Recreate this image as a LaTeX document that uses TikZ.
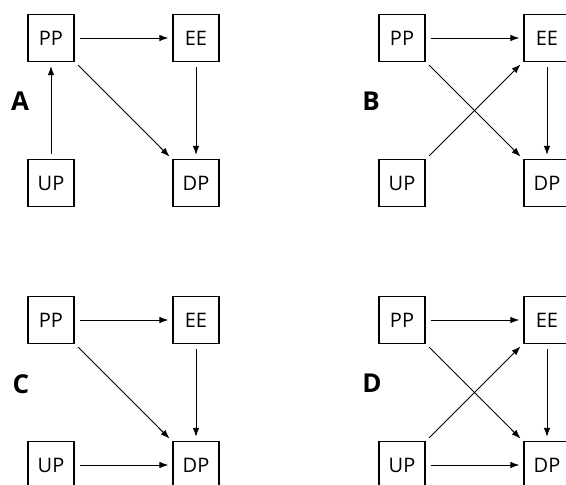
\documentclass[tikz,border=0pt]{standalone}
\usepackage{fontspec}
\setmainfont{Open Sans}
\usetikzlibrary{arrows.meta}
\tikzstyle{var} = [rectangle, minimum width=46pt, minimum height=47pt, inner sep=2pt, text centered, draw=black, line width=1.2pt, font=\fontsize{20}{24}\selectfont]
\tikzstyle{panel} = [font=\fontsize{26}{30}\selectfont\bfseries]
\tikzstyle{arrow} = [line width=1pt,->,>={Latex[length=9pt,width=6.5pt]}, shorten >=4pt, shorten <=5pt]

\begin{document}
\begin{tikzpicture}[x=1pt, y=-1pt, node distance=145pt]
    \useasboundingbox (0,0) rectangle (566,485);

    %nodes A
    \node (ppA) [var] at (51,38) {PP};
    \node (eeA) [var, right of=ppA] {EE};
    \node (upA) [var, below of=ppA] {UP};
    \node (dpA) [var, below of=eeA] {DP};
    \node (labA) [panel] at (20,101) {A};

    %nodes B
    \node (ppB) [var] at (402,38) {PP};
    \node (eeB) [var, right of=ppB] {EE};
    \node (upB) [var, below of=ppB] {UP};
    \node (dpB) [var, below of=eeB] {DP};
    \node (labB) [panel] at (371,101) {B};

    %nodes C
    \node (ppC) [var] at (51,320) {PP};
    \node (eeC) [var, right of=ppC] {EE};
    \node (upC) [var, below of=ppC] {UP};
    \node (dpC) [var, below of=eeC] {DP};
    \node (labC) [panel] at (21,384) {C};

    %nodes D
    \node (ppD) [var] at (402,320) {PP};
    \node (eeD) [var, right of=ppD] {EE};
    \node (upD) [var, below of=ppD] {UP};
    \node (dpD) [var, below of=eeD] {DP};
    \node (labD) [panel] at (372,383) {D};

    %arrows A
    \draw [arrow] (ppA) -- (eeA);
    \draw [arrow] (upA) -- (ppA);
    \draw [arrow] (eeA) -- (dpA);
    \draw [arrow] (ppA) -- (dpA);

    %arrows B
    \draw [arrow] (ppB) -- (eeB);
    \draw [arrow] (upB) -- (eeB);
    \draw [arrow] (eeB) -- (dpB);
    \draw [arrow] (ppB) -- (dpB);

    %arrows C
    \draw [arrow] (ppC) -- (eeC);
    \draw [arrow] (ppC) -- (dpC);
    \draw [arrow] (eeC) -- (dpC);
    \draw [arrow] (upC) -- (dpC);

    %arrows D
    \draw [arrow] (ppD) -- (eeD);
    \draw [arrow] (upD) -- (eeD);
    \draw [arrow] (ppD) -- (dpD);
    \draw [arrow] (eeD) -- (dpD);
    \draw [arrow] (upD) -- (dpD);

\end{tikzpicture}
\end{document}
